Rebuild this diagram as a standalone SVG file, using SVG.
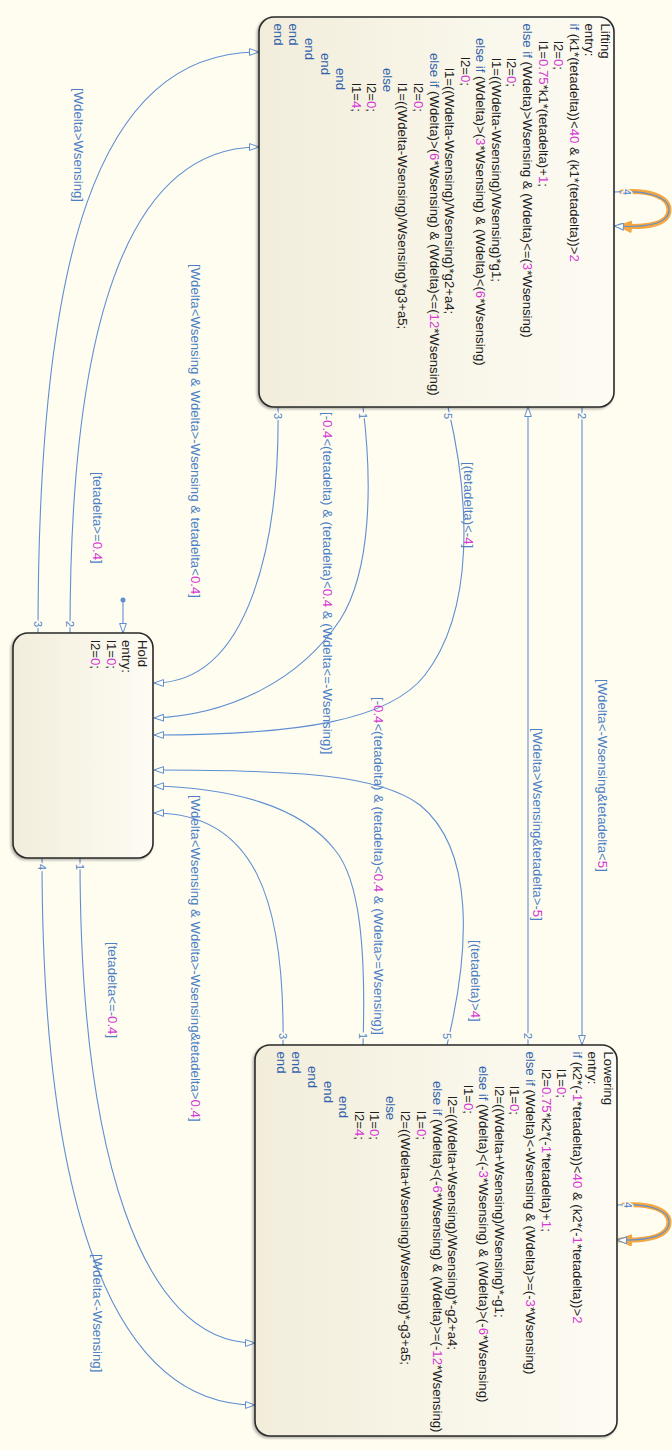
<svg xmlns="http://www.w3.org/2000/svg" width="672" height="1450" viewBox="0 0 672 1450">
<defs>
  <linearGradient id="sf" x1="0" y1="0" x2="1" y2="0">
    <stop offset="0" stop-color="#f2eddb"/>
    <stop offset="0.5" stop-color="#f8f5e8"/>
    <stop offset="1" stop-color="#fdfbf3"/>
  </linearGradient>
  <filter id="sh" x="-5%" y="-5%" width="110%" height="110%">
    <feDropShadow dx="-1.5" dy="1.5" stdDeviation="1" flood-color="#000" flood-opacity="0.3"/>
  </filter>
  <marker id="ah" viewBox="0 0 10 8" refX="10" refY="4" markerWidth="10" markerHeight="8" markerUnits="userSpaceOnUse" orient="auto">
    <path d="M0.5,0.6 L10,4 L0.5,7.4 Z" fill="#fffdf0" stroke="#5f8fd2" stroke-width="1"/>
  </marker>
  <marker id="aho" viewBox="0 0 14 12" refX="12" refY="6" markerWidth="14" markerHeight="12" markerUnits="userSpaceOnUse" orient="auto">
    <path d="M1,1 L12,6 L1,11 Z" fill="#f4a640" stroke="#f4a640" stroke-width="2" stroke-linejoin="round"/>
  </marker>
</defs>
<style>
  .state { fill: url(#sf); stroke: #2a2a2a; stroke-width: 1.6; filter: url(#sh); }
  .code { font-family: "Liberation Sans", Arial, Helvetica, sans-serif; font-size: 13.2px; fill: #1e1e1e; }
  .kw { fill: #3163ab; }
  .num { fill: #d43ad4; }
  .lbl { font-family: "Liberation Sans", Arial, Helvetica, sans-serif; font-size: 13.2px; fill: #4d7fc6; }
  .ord { font-family: "Liberation Sans", Arial, Helvetica, sans-serif; font-size: 11px; fill: #4d7fc6; text-anchor: middle; stroke: #fffdf0; stroke-width: 3px; paint-order: stroke; }
  .conn { fill: none; stroke: #5f8fd2; stroke-width: 1.1; }
  .arr { marker-end: url(#ah); }
  .hl { fill: none; stroke: #f4a640; stroke-width: 5; stroke-linecap: round; marker-end: url(#aho); }
</style>
<rect x="0" y="0" width="672" height="1450" fill="#fffdf0"/>

<g id="connectors">
  <!-- Hold -> Lifting -->
  <path class="conn arr" d="M38 633 C38 260 95 52 259 52"/>
  <path class="conn arr" d="M70 633 C70 330 125 147 259 147"/>
  <!-- Lifting -> Hold -->
  <path class="conn arr" d="M278 407 C280 540 250 683 154 683"/>
  <path class="conn arr" d="M363 407 C372 480 372 570 340 620 C300 680 230 715 154 718"/>
  <path class="conn arr" d="M448 407 C470 500 475 610 425 675 C390 720 300 735 154 735"/>
  <!-- Lowering -> Hold -->
  <path class="conn arr" d="M447 1045 C470 950 475 850 420 805 C380 775 300 770 154 770"/>
  <path class="conn arr" d="M363 1045 C366 950 360 880 335 850 C300 805 230 788 154 786"/>
  <path class="conn arr" d="M283 1045 C285 900 255 813 154 813"/>
  <!-- Hold -> Lowering -->
  <path class="conn arr" d="M80 858 C80 1150 140 1343 255 1343"/>
  <path class="conn arr" d="M42 858 C42 1200 110 1405 255 1405"/>
  <!-- Lifting <-> Lowering -->
  <path class="conn arr" d="M582 407 L582 1045"/>
  <path class="conn arr" d="M528 1045 L528 407"/>
  <!-- default transition -->
  <circle cx="123" cy="600" r="2.5" fill="#5f8fd2"/>
  <path class="conn arr" d="M123 600 L123 633"/>
  <!-- self loops (highlighted) -->
  <path class="hl" d="M622 192 C648 190 669 196 669 210 C669 224 648 228 620 226"/>
  <path class="conn arr" d="M614 192 C645 190 669 196 669 210 C669 224 645 228 614 226"/>
  <path class="hl" d="M624 1205 C650 1203 669 1210 669 1222 C669 1236 650 1241 620 1240"/>
  <path class="conn arr" d="M617 1205 C648 1203 669 1210 669 1222 C669 1236 648 1241 617 1240"/>
</g>

<g id="lifting">
  <rect class="state" x="259" y="17" width="355" height="390" rx="15"/>
  <g class="code" transform="rotate(90)">
    <text x="23.5" y="-600.8">Lifting</text>
    <text x="23.5" y="-585.2">entry:</text>
    <text x="23.5" y="-569.7"><tspan class="kw">if</tspan> (k1*(tetadelta))&lt;<tspan class="num">40</tspan> &amp; (k1*(tetadelta))&gt;<tspan class="num">2</tspan></text>
    <text x="41" y="-554.1">l2=<tspan class="num">0</tspan>;</text>
    <text x="41" y="-538.5">l1=<tspan class="num">0.75</tspan>*k1*(tetadelta)+<tspan class="num">1</tspan>;</text>
    <text x="23.5" y="-522.9"><tspan class="kw">else if</tspan> (Wdelta)&gt;Wsensing &amp; (Wdelta)&lt;=(<tspan class="num">3</tspan>*Wsensing)</text>
    <text x="58" y="-507.4">l2=<tspan class="num">0</tspan>;</text>
    <text x="58" y="-491.8">l1=((Wdelta-Wsensing)/Wsensing)*g1;</text>
    <text x="38" y="-476.2"><tspan class="kw">else if</tspan> (Wdelta)&gt;(<tspan class="num">3</tspan>*Wsensing) &amp; (Wdelta)&lt;(<tspan class="num">6</tspan>*Wsensing)</text>
    <text x="57" y="-460.7">l2=<tspan class="num">0</tspan>;</text>
    <text x="68" y="-445.1">l1=((Wdelta-Wsensing)/Wsensing)*g2+a4;</text>
    <text x="53" y="-429.5"><tspan class="kw">else if</tspan> (Wdelta)&gt;(<tspan class="num">6</tspan>*Wsensing) &amp; (Wdelta)&lt;=(<tspan class="num">12</tspan>*Wsensing)</text>
    <text x="83" y="-414.0">l2=<tspan class="num">0</tspan>;</text>
    <text x="83" y="-398.4">l1=((Wdelta-Wsensing)/Wsensing)*g3+a5;</text>
    <text x="68" y="-382.8" class="kw">else</text>
    <text x="83" y="-367.2">l2=<tspan class="num">0</tspan>;</text>
    <text x="83" y="-351.7">l1=<tspan class="num">4</tspan>;</text>
    <text x="68" y="-336.1" class="kw">end</text>
    <text x="53" y="-320.5" class="kw">end</text>
    <text x="38" y="-305.0" class="kw">end</text>
    <text x="23.5" y="-289.4" class="kw">end</text>
    <text x="23.5" y="-273.8" class="kw">end</text>
  </g>
</g>

<g id="lowering">
  <rect class="state" x="255" y="1045" width="362" height="391" rx="15"/>
  <g class="code" transform="rotate(90)">
    <text x="1051.5" y="-603.8">Lowering</text>
    <text x="1051.5" y="-588.2">entry:</text>
    <text x="1051.5" y="-572.7"><tspan class="kw">if</tspan> (k2*(-<tspan class="num">1</tspan>*tetadelta))&lt;<tspan class="num">40</tspan> &amp; (k2*(-<tspan class="num">1</tspan>*tetadelta))&gt;<tspan class="num">2</tspan></text>
    <text x="1069" y="-557.1">l1=<tspan class="num">0</tspan>;</text>
    <text x="1069" y="-541.5">l2=<tspan class="num">0.75</tspan>*k2*(-<tspan class="num">1</tspan>*tetadelta)+<tspan class="num">1</tspan>;</text>
    <text x="1051.5" y="-525.9"><tspan class="kw">else if</tspan> (Wdelta)&lt;-Wsensing &amp; (Wdelta)&gt;=(-<tspan class="num">3</tspan>*Wsensing)</text>
    <text x="1086" y="-510.4">l1=<tspan class="num">0</tspan>;</text>
    <text x="1086" y="-494.8">l2=((Wdelta+Wsensing)/Wsensing)*-g1;</text>
    <text x="1066" y="-479.2"><tspan class="kw">else if</tspan> (Wdelta)&lt;(-<tspan class="num">3</tspan>*Wsensing) &amp; (Wdelta)&gt;(-<tspan class="num">6</tspan>*Wsensing)</text>
    <text x="1085" y="-463.7">l1=<tspan class="num">0</tspan>;</text>
    <text x="1096" y="-448.1">l2=((Wdelta+Wsensing)/Wsensing)*-g2+a4;</text>
    <text x="1081" y="-432.5"><tspan class="kw">else if</tspan> (Wdelta)&lt;(-<tspan class="num">6</tspan>*Wsensing) &amp; (Wdelta)&gt;=(-<tspan class="num">12</tspan>*Wsensing)</text>
    <text x="1111" y="-417.0">l1=<tspan class="num">0</tspan>;</text>
    <text x="1111" y="-401.4">l2=((Wdelta+Wsensing)/Wsensing)*-g3+a5;</text>
    <text x="1096" y="-385.8" class="kw">else</text>
    <text x="1111" y="-370.2">l1=<tspan class="num">0</tspan>;</text>
    <text x="1111" y="-354.7">l2=<tspan class="num">4</tspan>;</text>
    <text x="1096" y="-339.1" class="kw">end</text>
    <text x="1081" y="-323.5" class="kw">end</text>
    <text x="1066" y="-308.0" class="kw">end</text>
    <text x="1051.5" y="-292.4" class="kw">end</text>
    <text x="1051.5" y="-276.8" class="kw">end</text>
  </g>
</g>

<g id="hold">
  <rect class="state" x="13" y="633" width="140" height="225" rx="15"/>
  <g class="code" transform="rotate(90)">
    <text x="640" y="-137.8">Hold</text>
    <text x="640" y="-122.3">entry:</text>
    <text x="640" y="-106.7">l1=<tspan class="num">0</tspan>;</text>
    <text x="640" y="-91.2">l2=<tspan class="num">0</tspan>;</text>
  </g>
</g>

<g id="labels" transform="rotate(90)">
  <text class="lbl" x="88" y="-73.8">[Wdelta&gt;Wsensing]</text>
  <text class="lbl" x="472" y="-92.8">[tetadelta&gt;=<tspan class="num">0.4</tspan>]</text>
  <text class="lbl" x="264" y="-190.8">[Wdelta&lt;Wsensing &amp; Wdelta&gt;-Wsensing &amp; tetadelta&lt;<tspan class="num">0.4</tspan>]</text>
  <text class="lbl" x="412" y="-322.8">[-<tspan class="num">0.4</tspan>&lt;(tetadelta) &amp; (tetadelta)&lt;<tspan class="num">0.4</tspan> &amp; (Wdelta&lt;=-Wsensing)]</text>
  <text class="lbl" x="462" y="-463.8">[(tetadelta)&lt;-<tspan class="num">4</tspan>]</text>
  <text class="lbl" x="679" y="-597.8">[Wdelta&lt;-Wsensing&amp;tetadelta&lt;<tspan class="num">5</tspan>]</text>
  <text class="lbl" x="728" y="-532.8">[Wdelta&gt;Wsensing&amp;tetadelta&gt;-<tspan class="num">5</tspan>]</text>
  <text class="lbl" x="940" y="-470.8">[(tetadelta)&gt;<tspan class="num">4</tspan>]</text>
  <text class="lbl" x="697" y="-373.8">[-<tspan class="num">0.4</tspan>&lt;(tetadelta) &amp; (tetadelta)&lt;<tspan class="num">0.4</tspan> &amp; (Wdelta&gt;=Wsensing)]</text>
  <text class="lbl" x="795" y="-190.8">[Wdelta&lt;Wsensing &amp; Wdelta&gt;-Wsensing&amp;tetadelta&gt;<tspan class="num">0.4</tspan>]</text>
  <text class="lbl" x="942" y="-107.8">[tetadelta&lt;=-<tspan class="num">0.4</tspan>]</text>
  <text class="lbl" x="1254" y="-92.8">[Wdelta&lt;-Wsensing]</text>
  <!-- execution order numbers -->
  <text class="ord" x="624" y="-34.1">3</text>
  <text class="ord" x="624" y="-66.1">2</text>
  <text class="ord" x="867" y="-38.1">4</text>
  <text class="ord" x="867" y="-76.1">1</text>
  <text class="ord" x="416" y="-274.1">3</text>
  <text class="ord" x="416" y="-359.1">1</text>
  <text class="ord" x="416" y="-444.1">5</text>
  <text class="ord" x="416" y="-578.1">2</text>
  <text class="ord" x="1036" y="-279.1">3</text>
  <text class="ord" x="1036" y="-359.1">1</text>
  <text class="ord" x="1036" y="-443.1">5</text>
  <text class="ord" x="1036" y="-524.1">2</text>
  <text class="ord" x="192" y="-623.1">4</text>
  <text class="ord" x="1205" y="-624.1">4</text>
</g>
</svg>
